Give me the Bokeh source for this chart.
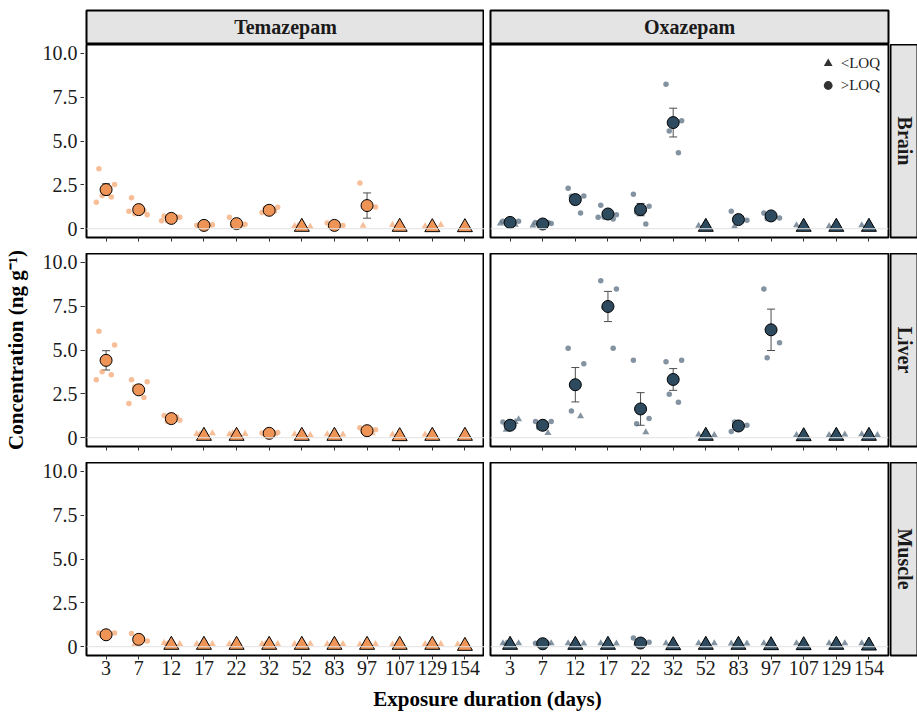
import math
from bokeh.plotting import figure
from bokeh.models import (Range1d, FixedTicker, Span, ColumnDataSource, Whisker,
                          TeeHead, Legend, LegendItem, Spacer)
from bokeh.layouts import column, row
from bokeh.embed import file_html
from bokeh.resources import INLINE
from bokeh.core.properties import value

# ---------------- data ----------------
DAYS = ["3", "7", "12", "17", "22", "32", "52", "83", "97", "107", "129", "154"]
DRUGS = ["Temazepam", "Oxazepam"]
TISSUES = ["Brain", "Liver", "Muscle"]
Y_TICKS = [0, 2.5, 5, 7.5, 10]
Y_LABELS = ["0", "2.5", "5.0", "7.5", "10.0"]
Y_TITLE = "Concentration (ng g\u207b\u00b9)"
X_TITLE = "Exposure duration (days)"
LEGEND_LABELS = ["<LOQ", ">LOQ"]

# Temazepam - Brain
TEM_BRAIN_MEAN = [2.23, 1.09, 0.59, 0.19, 0.29, 1.05, 0.10, 0.19, 1.32, 0.10, 0.08, 0.08]
TEM_BRAIN_SE = [0.33, 0.17, 0.06, 0.02, 0.05, 0.06, 0.01, 0.03, 0.72, 0.01, 0.01, 0.01]
TEM_BRAIN_BELOW = [0, 0, 0, 0, 0, 0, 1, 0, 0, 1, 1, 1]
TEM_BRAIN_PTS = [[3.42, 2.52, 1.89, 1.81, 1.51], [1.77, 0.80, 0.86, 1.02, 1.00],
                 [0.73, 0.65, 0.46, 0.68, 0.45], [0.20, 0.22, 0.17], [0.65, 0.25, 0.20],
                 [0.92, 1.22, 1.18, 1.00], [], [0.32, 0.18], [2.61, 1.24], [], [], []]
TEM_BRAIN_PTS_LOQ = [[], [], [], [0.20], [0.20], [], [0.15, 0.12, 0.15], [0.15], [0.17],
                     [0.22], [0.14, 0.22], []]

# Oxazepam - Brain
OXA_BRAIN_MEAN = [0.36, 0.27, 1.66, 0.84, 1.09, 6.05, 0.10, 0.52, 0.73, 0.10, 0.10, 0.10]
OXA_BRAIN_SE = [0.05, 0.05, 0.27, 0.15, 0.35, 0.82, 0.01, 0.20, 0.08, 0.01, 0.01, 0.01]
OXA_BRAIN_BELOW = [0, 0, 0, 0, 0, 0, 1, 0, 0, 1, 1, 1]
OXA_BRAIN_PTS = [[0.42, 0.42, 0.30], [0.36, 0.30, 0.27, 0.36], [2.31, 1.87, 1.85, 0.90],
                 [1.34, 0.80, 0.65, 0.55, 0.65], [1.97, 1.28, 0.94, 0.27],
                 [8.23, 6.15, 5.57, 4.33], [], [0.99, 0.48], [0.90, 0.61, 0.57], [], [], []]
OXA_BRAIN_PTS_LOQ = [[0.23, 0.30], [0.19, 0.19], [], [], [], [], [0.17], [0.13], [],
                     [0.20], [0.14], [0.20]]

# Temazepam - Liver
TEM_LIVER_MEAN = [4.41, 2.73, 1.09, 0.10, 0.10, 0.25, 0.10, 0.10, 0.40, 0.08, 0.10, 0.10]
TEM_LIVER_SE = [0.55, 0.22, 0.08, 0.01, 0.01, 0.03, 0.01, 0.01, 0.06, 0.01, 0.01, 0.01]
TEM_LIVER_BELOW = [0, 0, 0, 1, 1, 0, 1, 1, 0, 1, 1, 1]
TEM_LIVER_PTS = [[6.07, 5.29, 3.76, 3.59, 3.30], [3.30, 3.19, 2.90, 2.29, 1.95],
                 [1.26, 0.99, 0.92, 1.20], [], [], [0.27, 0.30], [], [], [0.57, 0.45, 0.35],
                 [], [], []]
TEM_LIVER_PTS_LOQ = [[], [], [], [0.22, 0.25, 0.20], [0.20, 0.22, 0.25], [0.20, 0.22],
                     [0.20, 0.15], [0.20, 0.18], [0.25], [0.18], [0.18], []]

# Oxazepam - Liver
OXA_LIVER_MEAN = [0.71, 0.71, 3.02, 7.48, 1.64, 3.32, 0.10, 0.67, 6.15, 0.08, 0.10, 0.10]
OXA_LIVER_SE = [0.10, 0.10, 0.98, 0.86, 0.93, 0.62, 0.01, 0.10, 1.18, 0.01, 0.01, 0.01]
OXA_LIVER_BELOW = [0, 0, 0, 0, 0, 0, 1, 0, 0, 1, 1, 1]
OXA_LIVER_PTS = [[0.90], [0.92, 0.92, 0.57], [5.10, 4.22, 1.53], [8.95, 8.47, 7.42, 5.10],
                 [4.41, 1.09, 0.80], [4.33, 4.41, 2.48, 2.02], [], [0.36, 0.71, 0.90],
                 [8.47, 5.42, 4.56], [], [], []]
OXA_LIVER_PTS_LOQ = [[1.05, 0.45, 0.90], [0.27], [1.22], [], [0.31], [], [0.18, 0.15], [],
                     [], [0.15], [0.15, 0.18], [0.20, 0.15]]

# Temazepam - Muscle
TEM_MUSCLE_MEAN = [0.68, 0.42, 0.10, 0.10, 0.10, 0.10, 0.10, 0.10, 0.10, 0.10, 0.10, 0.04]
TEM_MUSCLE_SE = [0.05, 0.10, 0.01, 0.01, 0.01, 0.01, 0.01, 0.01, 0.01, 0.01, 0.01, 0.01]
TEM_MUSCLE_BELOW = [0, 0, 1, 1, 1, 1, 1, 1, 1, 1, 1, 1]
TEM_MUSCLE_PTS = [[0.78, 0.78, 0.63], [0.76, 0.32], [], [], [], [], [], [], [], [], [], []]
TEM_MUSCLE_PTS_LOQ = [[], [0.15], [0.22, 0.15, 0.15], [0.15, 0.15], [0.15],
                      [0.15, 0.15, 0.15], [0.15, 0.17], [0.15, 0.15], [0.13, 0.15], [0.13],
                      [0.15, 0.15], [0.13]]

# Oxazepam - Muscle
OXA_MUSCLE_MEAN = [0.10, 0.17, 0.10, 0.10, 0.21, 0.08, 0.10, 0.10, 0.08, 0.08, 0.10, 0.06]
OXA_MUSCLE_SE = [0.01, 0.02, 0.01, 0.01, 0.06, 0.01, 0.01, 0.01, 0.01, 0.01, 0.01, 0.01]
OXA_MUSCLE_BELOW = [1, 0, 1, 1, 0, 1, 1, 1, 1, 1, 1, 1]
OXA_MUSCLE_PTS = [[], [0.20], [], [], [0.50, 0.25], [], [], [], [], [], [], []]
OXA_MUSCLE_PTS_LOQ = [[0.20, 0.20, 0.20], [0.20, 0.25, 0.20], [0.20, 0.18], [0.20, 0.18],
                      [0.20], [0.20], [0.20, 0.20], [0.18, 0.18], [0.20], [0.20],
                      [0.20, 0.20], [0.20]]

PANELS = {
    ("Temazepam", "Brain"): (TEM_BRAIN_MEAN, TEM_BRAIN_SE, TEM_BRAIN_BELOW, TEM_BRAIN_PTS, TEM_BRAIN_PTS_LOQ),
    ("Oxazepam", "Brain"): (OXA_BRAIN_MEAN, OXA_BRAIN_SE, OXA_BRAIN_BELOW, OXA_BRAIN_PTS, OXA_BRAIN_PTS_LOQ),
    ("Temazepam", "Liver"): (TEM_LIVER_MEAN, TEM_LIVER_SE, TEM_LIVER_BELOW, TEM_LIVER_PTS, TEM_LIVER_PTS_LOQ),
    ("Oxazepam", "Liver"): (OXA_LIVER_MEAN, OXA_LIVER_SE, OXA_LIVER_BELOW, OXA_LIVER_PTS, OXA_LIVER_PTS_LOQ),
    ("Temazepam", "Muscle"): (TEM_MUSCLE_MEAN, TEM_MUSCLE_SE, TEM_MUSCLE_BELOW, TEM_MUSCLE_PTS, TEM_MUSCLE_PTS_LOQ),
    ("Oxazepam", "Muscle"): (OXA_MUSCLE_MEAN, OXA_MUSCLE_SE, OXA_MUSCLE_BELOW, OXA_MUSCLE_PTS, OXA_MUSCLE_PTS_LOQ),
}

# ---------------- styles ----------------
FONT = "Liberation Serif"
MEAN_COLOR = {"Temazepam": "#EE9457", "Oxazepam": "#2D4A5E"}
PT_COLOR = {"Temazepam": "#F4A26B", "Oxazepam": "#4E6579"}
JITTER = [-0.22, 0.26, -0.12, 0.16, -0.30, 0.06, 0.30]
FRAME_W, FRAME_H = 398, 193
AXIS_B = 83          # width reserved for the y-axis figures
GAP = 6
RSTRIP_W = 28
STRIP_H = 44
ROW_GAP = 16
BOTTOM_B = 27
TICK_FS = "20px"
STRIP_FS = "20px"
TITLE_FS = "21px"
Y_RANGE = (-0.5, 10.5)
X_RANGE = (0.4, 12.6)


def make_axis_fig(top_b, bottom_b, ylabel):
    p = figure(frame_width=1, frame_height=FRAME_H, x_range=Range1d(0, 1),
               y_range=Range1d(*Y_RANGE), output_backend="svg", toolbar_location=None,
               tools="", x_axis_location=None, y_axis_location="left",
               min_border_left=AXIS_B, min_border_right=0, min_border_top=top_b,
               min_border_bottom=bottom_b, outline_line_color=None,
               background_fill_color="white", border_fill_color="white")
    p.grid.visible = False
    ya = p.yaxis[0]
    ya.ticker = FixedTicker(ticks=Y_TICKS)
    ya.major_label_overrides = {t: l for t, l in zip(Y_TICKS, Y_LABELS)}
    ya.axis_line_color = None
    ya.major_tick_line_color = "#333333"
    ya.major_tick_out = 4
    ya.major_tick_in = 1
    ya.minor_tick_line_color = None
    ya.major_label_standoff = 3
    ya.major_label_text_font = FONT
    ya.major_label_text_font_size = TICK_FS
    ya.major_label_text_color = "#1a1a1a"
    if ylabel:
        ya.axis_label = Y_TITLE
        ya.axis_label_text_font = FONT
        ya.axis_label_text_font_style = "bold"
        ya.axis_label_text_font_size = TITLE_FS
        ya.axis_label_text_color = "black"
        ya.axis_label_standoff = 12
    return p


def make_panel(drug, tissue, is_left, is_bottom, legend):
    means, se, below, pts, pts_loq = PANELS[(drug, tissue)]
    p = figure(frame_width=FRAME_W, frame_height=FRAME_H,
               x_range=Range1d(*X_RANGE), y_range=Range1d(*Y_RANGE),
               output_backend="svg", toolbar_location=None, tools="",
               y_axis_location=None,
               min_border_left=1 if is_left else GAP,
               min_border_right=0 if is_left else 2,
               min_border_top=0, min_border_bottom=BOTTOM_B if is_bottom else ROW_GAP,
               outline_line_color="black", outline_line_width=2,
               background_fill_color="white", border_fill_color="white")
    p.grid.visible = False
    p.add_layout(Span(location=0, dimension="width", line_color="#e2e2e2", line_width=1))

    xa = p.xaxis[0]
    xa.ticker = FixedTicker(ticks=list(range(1, 13)))
    if is_bottom:
        xa.major_label_overrides = {i + 1: d for i, d in enumerate(DAYS)}
    else:
        xa.major_label_overrides = {i + 1: "" for i in range(12)}
    xa.axis_line_color = None
    xa.major_tick_line_color = "#333333"
    xa.major_tick_out = 4
    xa.major_tick_in = 0
    xa.minor_tick_line_color = None
    xa.major_label_standoff = 1
    xa.major_label_text_font = FONT
    xa.major_label_text_font_size = TICK_FS
    xa.major_label_text_color = "#1a1a1a"

    # individual points (jittered)
    cx, cy, tx, ty = [], [], [], []
    for i in range(len(DAYS)):
        k = 0
        for v in pts[i]:
            cx.append(i + 1 + JITTER[k % len(JITTER)]); cy.append(v); k += 1
        for v in pts_loq[i]:
            tx.append(i + 1 + JITTER[k % len(JITTER)]); ty.append(v); k += 1
    p.scatter(cx, cy, marker="circle", size=5.5, fill_color=PT_COLOR[drug],
              fill_alpha=0.7, line_color=None)
    p.scatter(tx, ty, marker="triangle", size=7, fill_color=PT_COLOR[drug],
              fill_alpha=0.7, line_color=None)

    # error bars
    xs = list(range(1, len(DAYS) + 1))
    src = ColumnDataSource(dict(x=xs, u=[m + s for m, s in zip(means, se)],
                                l=[m - s for m, s in zip(means, se)]))
    wh = Whisker(base="x", upper="u", lower="l", source=src, dimension="height",
                 line_color="#4d4d4d", line_width=1,
                 upper_head=TeeHead(size=8, line_color="#4d4d4d", line_width=1),
                 lower_head=TeeHead(size=8, line_color="#4d4d4d", line_width=1))
    p.add_layout(wh)

    # means
    mcx = [x for x, b in zip(xs, below) if not b]
    mcy = [m for m, b in zip(means, below) if not b]
    mtx = [x for x, b in zip(xs, below) if b]
    mty = [m for m, b in zip(means, below) if b]
    p.scatter(mcx, mcy, marker="circle", size=12, fill_color=MEAN_COLOR[drug],
              line_color="black", line_width=1)
    p.scatter(mtx, mty, marker="triangle", size=15, fill_color=MEAN_COLOR[drug],
              line_color="black", line_width=1)

    if legend:
        nan = float("nan")
        r1 = p.scatter([nan], [nan], marker="triangle", size=15, fill_color="#333333", line_color=None)
        r2 = p.scatter([nan], [nan], marker="circle", size=12, fill_color="#333333", line_color=None)
        lg = Legend(items=[LegendItem(label=LEGEND_LABELS[0], renderers=[r1], index=0),
                           LegendItem(label=LEGEND_LABELS[1], renderers=[r2], index=0)],
                    location="top_right", margin=4, padding=4, spacing=0,
                    glyph_height=22, glyph_width=24, label_standoff=1,
                    label_text_font=FONT, label_text_font_size="15px",
                    label_text_color="#1a1a1a",
                    background_fill_alpha=0, border_line_alpha=0)
        p.add_layout(lg)
    return p


def strip_fig(text, fw, fh, bl, br, bt, bb, angle):
    p = figure(frame_width=fw, frame_height=fh, x_range=Range1d(0, 1), y_range=Range1d(0, 1),
               output_backend="svg", toolbar_location=None, tools="",
               x_axis_location=None, y_axis_location=None,
               min_border_left=bl, min_border_right=br, min_border_top=bt, min_border_bottom=bb,
               background_fill_color="#e4e4e4", border_fill_color="white",
               outline_line_color="black", outline_line_width=2)
    p.grid.visible = False
    p.text(x=[0.5], y=[0.5], text=[text], angle=angle, text_align="center",
           text_baseline="middle", text_font=value(FONT), text_font_style="bold",
           text_font_size=STRIP_FS, text_color="#1a1a1a")
    return p


# ---- y-axis column (separate so that tick labels are never clipped) ----
yaxes = column(make_axis_fig(STRIP_H, 8, False),
               make_axis_fig(8, 8, True),
               make_axis_fig(8, BOTTOM_B, False))

# ---- main column ----
top = row(strip_fig(DRUGS[0], FRAME_W, 33, 1, 0, 10, 1, 0),
          strip_fig(DRUGS[1], FRAME_W, 33, GAP, 2, 10, 1, 0),
          Spacer(width=RSTRIP_W, height=STRIP_H))

rows = [top]
for ti, tissue in enumerate(TISSUES):
    is_bottom = ti == len(TISSUES) - 1
    left = make_panel(DRUGS[0], tissue, True, is_bottom, False)
    right = make_panel(DRUGS[1], tissue, False, is_bottom, ti == 0)
    rs = strip_fig(tissue, RSTRIP_W, FRAME_H, 0, 0, 0, BOTTOM_B if is_bottom else ROW_GAP,
                   -math.pi / 2)
    rows.append(row(left, right, rs))

MAIN_W = 1 + FRAME_W + GAP + FRAME_W + 2 + RSTRIP_W
TF_H = 30
tf = figure(frame_width=MAIN_W, frame_height=TF_H, x_range=Range1d(0, MAIN_W), y_range=Range1d(0, TF_H),
            output_backend="svg", toolbar_location=None, tools="",
            x_axis_location=None, y_axis_location=None,
            min_border_left=0, min_border_right=0, min_border_top=0, min_border_bottom=0,
            outline_line_color=None, background_fill_color="white", border_fill_color="white")
tf.grid.visible = False
tf.text(x=[(1 + MAIN_W - RSTRIP_W - 2) / 2], y=[14], text=[X_TITLE], text_align="center",
        text_baseline="middle", text_font=value(FONT), text_font_style="bold",
        text_font_size=TITLE_FS, text_color="black")
rows.append(tf)

layout = row(yaxes, column(*rows))
open("out.html", "w").write(file_html(layout, INLINE))
